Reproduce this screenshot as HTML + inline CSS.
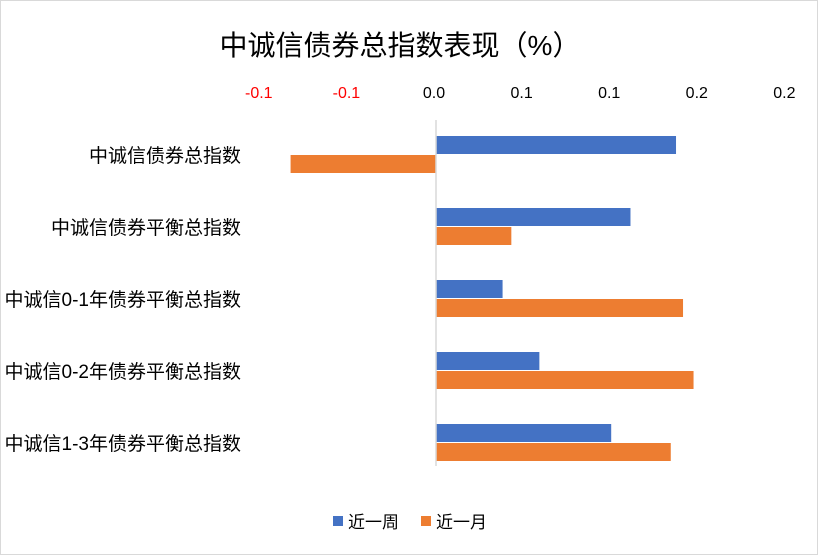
<!DOCTYPE html>
<html><head><meta charset="utf-8"><style>
body{margin:0;background:#fff}
svg{display:block;font-family:"Liberation Sans","Noto Sans CJK SC",sans-serif}
</style></head><body>
<svg id="c" width="818" height="555" xmlns="http://www.w3.org/2000/svg">
<rect x="0.5" y="0.5" width="817" height="554" fill="#fff" stroke="#d9d9d9"/>
<text x="400" y="55" text-anchor="middle" font-size="28" fill="#000">中诚信债券总指数表现（%）</text>
<g id="ticks"></g><g id="bars"></g><g id="cats"></g>
<line x1="436" y1="120" x2="436" y2="466" stroke="#d9d9d9" stroke-width="1.5"/>
<g>
<rect x="333" y="516" width="10" height="10" fill="#4472c4"/>
<text x="348" y="528" font-size="17">近一周</text>
<rect x="421" y="516" width="10" height="10" fill="#ed7d31"/>
<text x="436" y="528" font-size="17">近一月</text>
</g>
</svg>
<script>
const categories=["中诚信债券总指数","中诚信债券平衡总指数","中诚信0-1年债券平衡总指数","中诚信0-2年债券平衡总指数","中诚信1-3年债券平衡总指数"];
const weekValues=[0.137,0.111,0.038,0.059,0.100];
const monthValues=[-0.083,0.043,0.141,0.147,0.134];
const tickValues=[-0.10,-0.05,0,0.05,0.10,0.15,0.20];
const tickLabels=["-0.1","-0.1","0.0","0.1","0.1","0.2","0.2"];
const NS="http://www.w3.org/2000/svg";
const x=v=>436+v*1752;
const rowY=i=>155+i*72;
function mk(t,a,p){const e=document.createElementNS(NS,t);for(const k in a)e.setAttribute(k,a[k]);p.appendChild(e);return e;}
const tg=document.getElementById('ticks');
tickValues.forEach((v,i)=>{const t=mk('text',{x:x(v)-2,y:98,'text-anchor':'middle','font-size':16,fill:v<0?'#ff0000':'#000'},tg);t.textContent=tickLabels[i];

});
const bg=document.getElementById('bars'),cg=document.getElementById('cats');
categories.forEach((c,i)=>{
 const y=rowY(i);
 [[weekValues[i],'#4472c4',y-19,'bar-week'],[monthValues[i],'#ed7d31',y,'bar-month']].forEach(([v,col,yy,n])=>{
  const r=mk('rect',{x:Math.min(x(0),x(v)),y:yy,width:Math.abs(x(v)-x(0)),height:18,fill:col},bg);
  
  
 });
 const t=mk('text',{x:241,y:y+7,'text-anchor':'end','font-size':19},cg);t.textContent=c;
 
 
});
</script>
</body></html>
